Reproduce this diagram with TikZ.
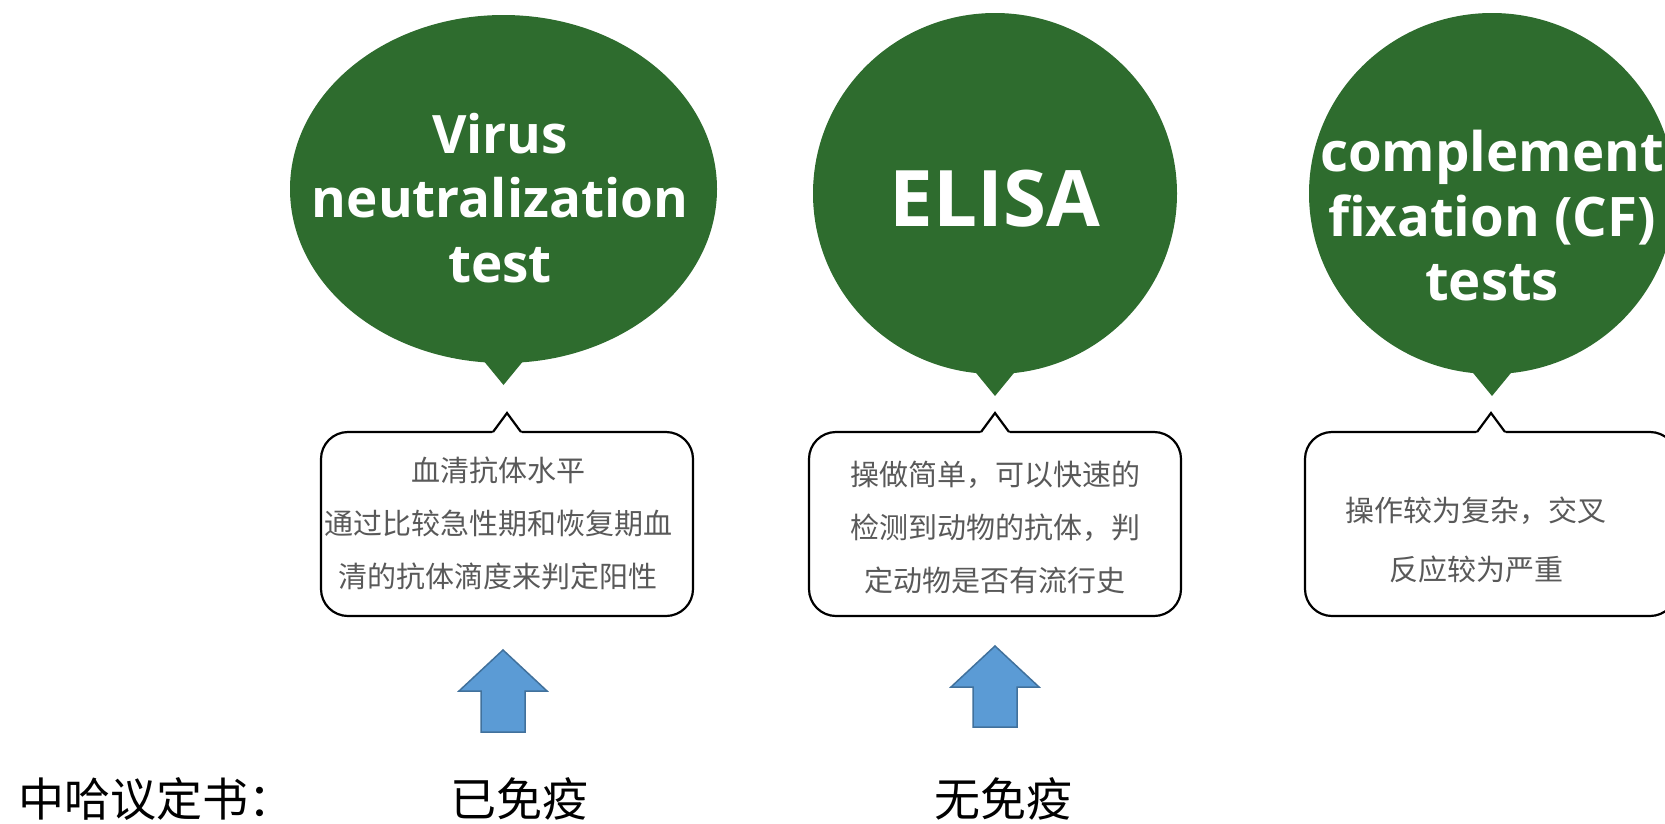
\documentclass[tikz,border=0pt]{standalone}
\usepackage{fontspec}
\setmainfont{Open Sans}
\newfontfamily\cjk{Noto Sans CJK SC}
\usetikzlibrary{shapes.geometric,calc}
\definecolor{bubblegreen}{RGB}{46,108,46}
\definecolor{arrowfill}{RGB}{91,155,213}
\definecolor{arrowline}{RGB}{65,113,156}
\definecolor{notegray}{RGB}{89,89,89}

\begin{document}
\begin{tikzpicture}[x=1pt,y=-1pt,
  bubble/.style={ellipse, fill=bubblegreen, inner sep=0pt, outer sep=0pt},
  bubbletext/.style={text=white, align=center, inner sep=0pt,
    font=\bfseries\fontsize{53}{64.5}\selectfont},
  tail/.style={fill=bubblegreen},
  note/.style={draw=black, line width=2.2pt, rounded corners=27pt, fill=white,
    minimum width=372pt, minimum height=184pt, inner sep=0pt, outer sep=0pt},
  notetext/.style={text=notegray, align=center, inner sep=0pt,
    font=\cjk\fontsize{29}{53}\selectfont},
  notch/.style={draw=black, line width=2.2pt, line join=miter},
  blockarrow/.style={fill=arrowfill, draw=arrowline, line width=1.5pt, line join=miter},
  labeltext/.style={text=black, inner sep=0pt, font=\cjk\fontsize{46}{52}\selectfont}]

\useasboundingbox (0,0) rectangle (1665,823);

% speech bubbles
\node[bubble, minimum width=427pt, minimum height=348pt] (e1) at (503.5,189) {};
\node[bubble, minimum width=364pt, minimum height=361pt] (e2) at (995,193.5) {};
\node[bubble, minimum width=366pt, minimum height=361pt] (e3) at (1492,193.5) {};
\foreach \e in {e1,e2,e3}{
  \fill[tail] ($(\e.south)+(-23,-6)$) -- ($(\e.south)+(0,22)$) -- ($(\e.south)+(23,-6)$) -- cycle;
}
\node[bubbletext] (t1) at (500,198) {Virus\\neutralization\\test};
\node[bubbletext, font=\bfseries\fontsize{78}{90}\selectfont] (t2) at (995,199) {ELISA};
\node[bubbletext, font=\bfseries\fontsize{54.5}{64.5}\selectfont] (t3) at (1492,216) {complement\\fixation (CF)\\tests};

% notes with a pointer on top
\node[note] (b1) at (507,524) {};
\node[note] (b2) at (995,524) {};
\node[note] (b3) at (1491,524) {};
\foreach \b in {b1,b2,b3}{
  \fill[white] ($(\b.north)+(-15.5,2.2)$) -- ($(\b.north)+(0,-19)$) -- ($(\b.north)+(15.5,2.2)$) -- cycle;
  \draw[notch] ($(\b.north)+(-14,0)$) -- ($(\b.north)+(0,-19)$) -- ($(\b.north)+(14,0)$);
}
\node[notetext] (n1) at (498,523) {血清抗体水平\\通过比较急性期和恢复期血\\清的抗体滴度来判定阳性};
\node[notetext] (n2) at (995,527) {操做简单，可以快速的\\检测到动物的抗体，判\\定动物是否有流行史};
\node[notetext, font=\cjk\fontsize{29}{59}\selectfont] (n3) at (1476,540) {操作较为复杂，交叉\\反应较为严重};

% block arrows
\coordinate (a1) at (503,650);
\coordinate (a2) at (995,646);
\draw[blockarrow] (a1) -- ++(44,41) -- ++(-22,0) -- ++(0,41) -- ++(-44,0) -- ++(0,-41) -- ++(-22,0) -- cycle;
\draw[blockarrow] (a2) -- ++(44,41) -- ++(-22,0) -- ++(0,40) -- ++(-44,0) -- ++(0,-40) -- ++(-22,0) -- cycle;

% bottom labels
\node[labeltext, anchor=west] (l0) at (18,799) {中哈议定书：};
\node[labeltext] (l1) at (519,799) {已免疫};
\node[labeltext] (l2) at (1003,799) {无免疫};
\end{tikzpicture}
\end{document}
